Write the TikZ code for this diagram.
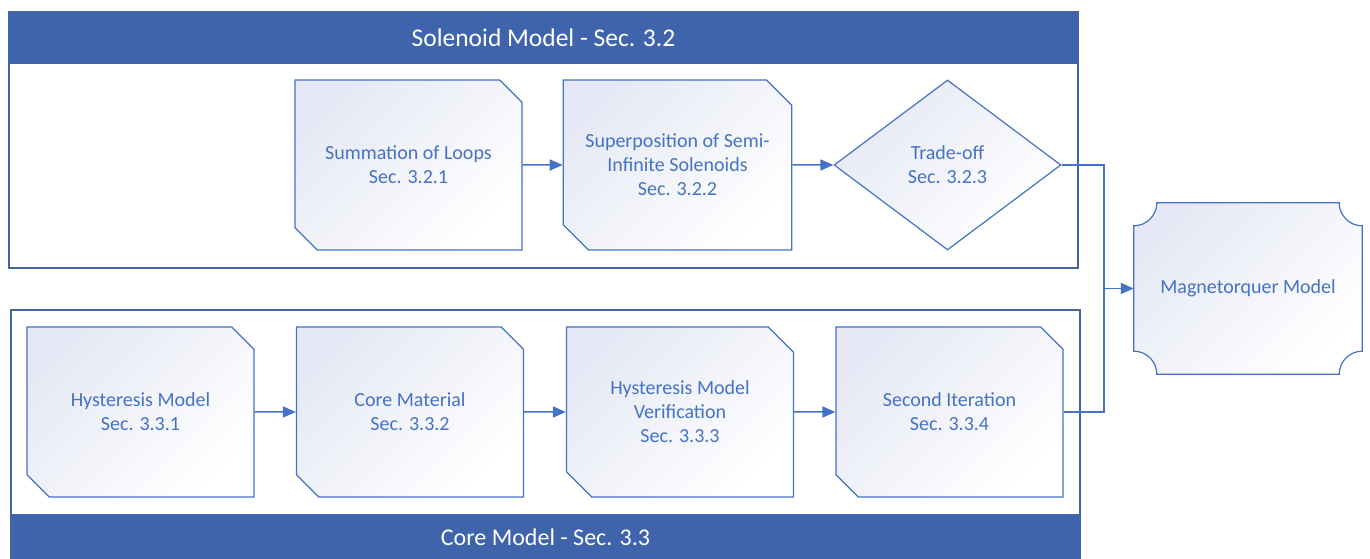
\documentclass[tikz,border=0pt]{standalone}
\usepackage{fontspec}
\setmainfont{Carlito}
\usetikzlibrary{shapes.geometric,shapes.misc,arrows.meta}
\definecolor{hdr}{HTML}{3F64AC}
\definecolor{frm}{HTML}{41659F}
\definecolor{ln}{HTML}{4472C4}
\definecolor{txt}{HTML}{4472C4}
\definecolor{lav}{HTML}{E6E9F5}
\tikzset{
  boxfill/.style={top color=lav, bottom color=white, shading angle=45},
  chbox/.style={chamfered rectangle, chamfered rectangle corners={north east,south west},
    chamfered rectangle xsep=22pt, chamfered rectangle angle=45,
    draw=ln, line width=1.2pt, boxfill, minimum width=227pt, minimum height=170pt,
    inner sep=0pt, align=center, text=txt, font=\fontsize{20}{24}\selectfont},
  dbox/.style={diamond, draw=ln, line width=1.2pt, boxfill, minimum width=227pt, minimum height=170pt,
    inner sep=0pt, align=center, text=txt, font=\fontsize{20}{24}\selectfont},
  frame/.style={draw=frm, line width=1.2pt, inner sep=0pt},
  header/.style={fill=hdr, draw=hdr, inner sep=0pt, text=white},
  conn/.style={draw=ln, line width=1.5pt, -{Triangle[length=13pt,width=11pt]}},
  wire/.style={draw=ln, line width=1.5pt},
}
\begin{document}
\begin{tikzpicture}[x=1pt,y=1pt]
\useasboundingbox (0,0) rectangle (1370,559);
% containers
\node[frame, minimum width=1069pt, minimum height=256pt] (sol) at (543.5,419) {};
\node[header, minimum width=1069pt, minimum height=51pt, font=\fontsize{25.5}{30}\selectfont] (solh) at (543.5,521.5) {Solenoid Model - Sec. 3.2};
\node[frame, minimum width=1069pt, minimum height=249pt] (core) at (545.5,124.5) {};
\node[header, minimum width=1069pt, minimum height=46pt, font=\fontsize{24}{29}\selectfont] (coreh) at (545.5,22) {Core Model - Sec. 3.3};
% top row
\node[chbox] (s1) at (408.5,394) {Summation of Loops\\Sec. 3.2.1};
\node[chbox] (s2) at (677.5,394) {Superposition of Semi-\\Infinite Solenoids\\Sec. 3.2.2};
\node[dbox] (t) at (947.5,394) {Trade-off\\Sec. 3.2.3};
% bottom row
\node[chbox] (h1) at (140.5,147) {Hysteresis Model\\Sec. 3.3.1};
\node[chbox] (h2) at (410,147) {Core Material\\Sec. 3.3.2};
\node[chbox] (h3) at (680,147) {Hysteresis Model\\Verification\\Sec. 3.3.3};
\node[chbox] (h4) at (949.5,147) {Second Iteration\\Sec. 3.3.4};
% magnetorquer
\node[minimum width=228pt, minimum height=171pt, inner sep=0pt] (m) at (1248,270.5) {};
\path[boxfill, draw=ln, line width=1.2pt]
  ([xshift=23pt]m.north west) -- ([xshift=-23pt]m.north east)
  arc[start angle=180, end angle=270, radius=23pt]
  -- ([yshift=23pt]m.south east)
  arc[start angle=90, end angle=180, radius=23pt]
  -- ([xshift=23pt]m.south west)
  arc[start angle=0, end angle=90, radius=23pt]
  -- ([yshift=-23pt]m.north west)
  arc[start angle=270, end angle=360, radius=23pt] -- cycle;
\node[text=txt, font=\fontsize{20}{24}\selectfont] (mt) at (m.center) {Magnetorquer Model};
% connectors
\draw[conn] (s1) -- (s2);
\draw[conn] (s2) -- (t);
\draw[conn] (h1) -- (h2);
\draw[conn] (h2) -- (h3);
\draw[conn] (h3) -- (h4);
\coordinate (j) at (1104,270.5);
\draw[wire] (t.east) -| (j);
\draw[wire] (h4.east) -| (j);
\draw[conn] (j) -- (m.west);
\end{tikzpicture}
\end{document}
